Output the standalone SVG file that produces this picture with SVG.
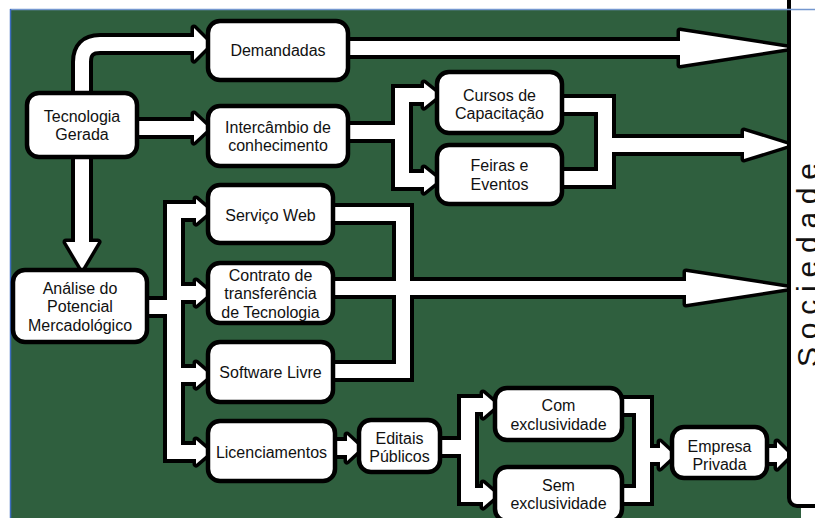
<svg xmlns="http://www.w3.org/2000/svg" xmlns:xlink="http://www.w3.org/1999/xlink" width="815" height="518" viewBox="0 0 815 518">
  <style>
    .panel { fill: #2f5f3e; }
    .box { fill: #fff; stroke: #000; stroke-width: 4.5; }
    .lbl { font-family: "Liberation Sans", Arial, sans-serif; font-size: 16px; fill: #111; text-anchor: middle; }
    .band-o { fill: none; stroke: #000; stroke-width: 22; stroke-linejoin: miter; stroke-linecap: butt; }
    .band { fill: none; stroke: #fff; stroke-width: 14; stroke-linejoin: miter; stroke-linecap: butt; }
    .head-o { fill: #000; stroke: #000; stroke-width: 7; stroke-linejoin: round; }
    .head { fill: #fff; }
    .soc { font-family: "Liberation Sans", Arial, sans-serif; font-size: 30px; fill: #111; }
  </style>
  <defs>
    <!-- connector centrelines -->
    <path id="c1" d="M82,93 V62 Q82,44 100,44 H198"/>
    <path id="c2" d="M137,128 H198"/>
    <path id="c3" d="M82,157 V246"/>
    <path id="c4" d="M348,48 H684"/>
    <path id="c5" d="M348,132 H402 M428,95 H402 V180 H428"/>
    <path id="c6" d="M562,105 H605 V178 H562 M605,145 H748"/>
    <path id="c7" d="M147,307 H174 M200,211 H174 V452 H200 M174,293 H200 M174,375 H200"/>
    <path id="c8" d="M333,214 H403 V371 H333 M333,288 H690"/>
    <path id="c9" d="M335,448 H350"/>
    <path id="c10" d="M440,447 H468 M486,405 H468 V495 H486"/>
    <path id="c11" d="M622,406 H643 V495 H622 M643,455 H664"/>
    <path id="c12" d="M767,455 H780"/>
    <!-- arrowheads -->
    <g id="heads">
      <polygon points="194,28 210,44 194,60"/>
      <polygon points="194,114 209,128 194,142"/>
      <polygon points="66,242 82,269 98,242"/>
      <polygon points="680,31 789,48 680,65"/>
      <polygon points="424,83 439,95 424,107"/>
      <polygon points="424,168 439,180 424,192"/>
      <polygon points="744,131 789,145 744,159"/>
      <polygon points="196,199 210,211 196,223"/>
      <polygon points="196,281 210,293 196,305"/>
      <polygon points="196,363 210,375 196,387"/>
      <polygon points="196,440 210,452 196,464"/>
      <polygon points="686,272 789,288 686,304"/>
      <polygon points="347,435 361,448 347,461"/>
      <polygon points="483,393 497,405 483,417"/>
      <polygon points="483,483 497,495 483,507"/>
      <polygon points="660,442 674,455 660,468"/>
      <polygon points="777,442 790,455 777,468"/>
    </g>
  </defs>

  <!-- page and green panel -->
  <rect x="0" y="0" width="815" height="518" fill="#fff"/>
  <rect class="panel" x="11" y="10" width="790" height="508"/>

  <!-- connectors: black outline layer, then white fill layer -->
  <g id="connectors">
    <g class="band-o">
      <use xlink:href="#c1"/><use xlink:href="#c2"/><use xlink:href="#c3"/><use xlink:href="#c4"/>
      <use xlink:href="#c5"/><use xlink:href="#c6"/><use xlink:href="#c7"/><use xlink:href="#c8"/>
      <use xlink:href="#c9"/><use xlink:href="#c10"/><use xlink:href="#c11"/><use xlink:href="#c12"/>
    </g>
    <use xlink:href="#heads" class="head-o"/>
    <g class="band">
      <use xlink:href="#c1"/><use xlink:href="#c2"/><use xlink:href="#c3"/><use xlink:href="#c4"/>
      <use xlink:href="#c5"/><use xlink:href="#c6"/><use xlink:href="#c7"/><use xlink:href="#c8"/>
      <use xlink:href="#c9"/><use xlink:href="#c10"/><use xlink:href="#c11"/><use xlink:href="#c12"/>
    </g>
    <use xlink:href="#heads" class="head"/>
  </g>

  <!-- Sociedade column -->
  <g id="sociedade">
    <rect x="789" y="-20" width="40" height="526" rx="8" fill="#fff" stroke="#000" stroke-width="4"/>
    <text class="soc" transform="translate(818,367) rotate(-90)" textLength="204" lengthAdjust="spacing">Sociedade</text>
  </g>

  <!-- frame lines -->
  <line x1="10" y1="9.5" x2="815" y2="9.5" stroke="#7497cf" stroke-width="1.5"/>
  <line x1="10.5" y1="9" x2="10.5" y2="518" stroke="#3c6cc0" stroke-width="1.5"/>

  <!-- nodes -->
  <g id="tecnologia">
    <rect class="box" x="27" y="93" width="110" height="64" rx="12"/>
    <text class="lbl" x="82" y="122">Tecnologia</text>
    <text class="lbl" x="82" y="140">Gerada</text>
  </g>
  <g id="demandadas">
    <rect class="box" x="208" y="21" width="140" height="59" rx="12"/>
    <text class="lbl" x="278" y="56">Demandadas</text>
  </g>
  <g id="intercambio">
    <rect class="box" x="208" y="106" width="140" height="60" rx="12"/>
    <text class="lbl" x="278" y="132.5">Intercâmbio de</text>
    <text class="lbl" x="278" y="150.5">conhecimento</text>
  </g>
  <g id="cursos">
    <rect class="box" x="437" y="72" width="125" height="61" rx="12"/>
    <text class="lbl" x="499.5" y="100.5">Cursos de</text>
    <text class="lbl" x="499.5" y="118.5">Capacitação</text>
  </g>
  <g id="feiras">
    <rect class="box" x="437" y="145" width="125" height="59" rx="12"/>
    <text class="lbl" x="499.5" y="171">Feiras e</text>
    <text class="lbl" x="499.5" y="189.5">Eventos</text>
  </g>
  <g id="analise">
    <rect class="box" x="13" y="270" width="134" height="72" rx="12"/>
    <text class="lbl" x="80" y="293.5">Análise do</text>
    <text class="lbl" x="80" y="312">Potencial</text>
    <text class="lbl" x="80" y="330.5">Mercadológico</text>
  </g>
  <g id="servico">
    <rect class="box" x="208" y="185" width="125" height="58" rx="12"/>
    <text class="lbl" x="270.5" y="220.5">Serviço Web</text>
  </g>
  <g id="contrato">
    <rect class="box" x="208" y="263" width="125" height="60" rx="12"/>
    <text class="lbl" x="270.5" y="280.5">Contrato de</text>
    <text class="lbl" x="270.5" y="299">transferência</text>
    <text class="lbl" x="270.5" y="317.5">de Tecnologia</text>
  </g>
  <g id="software">
    <rect class="box" x="208" y="342" width="125" height="60" rx="12"/>
    <text class="lbl" x="270.5" y="377.5">Software Livre</text>
  </g>
  <g id="licenciamentos">
    <rect class="box" x="208" y="421" width="127" height="60" rx="12"/>
    <text class="lbl" x="271.5" y="457.5">Licenciamentos</text>
  </g>
  <g id="editais">
    <rect class="box" x="359" y="420" width="81" height="52" rx="12"/>
    <text class="lbl" x="399.5" y="443.5">Editais</text>
    <text class="lbl" x="399.5" y="462">Públicos</text>
  </g>
  <g id="com">
    <rect class="box" x="495" y="388" width="127" height="52" rx="12"/>
    <text class="lbl" x="558.5" y="410.5">Com</text>
    <text class="lbl" x="558.5" y="430">exclusividade</text>
  </g>
  <g id="sem">
    <rect class="box" x="495" y="467" width="127" height="54" rx="12"/>
    <text class="lbl" x="558.5" y="490.5">Sem</text>
    <text class="lbl" x="558.5" y="509">exclusividade</text>
  </g>
  <g id="empresa">
    <rect class="box" x="672" y="427" width="95" height="51" rx="12"/>
    <text class="lbl" x="719.5" y="451.5">Empresa</text>
    <text class="lbl" x="719.5" y="469.5">Privada</text>
  </g>
</svg>
